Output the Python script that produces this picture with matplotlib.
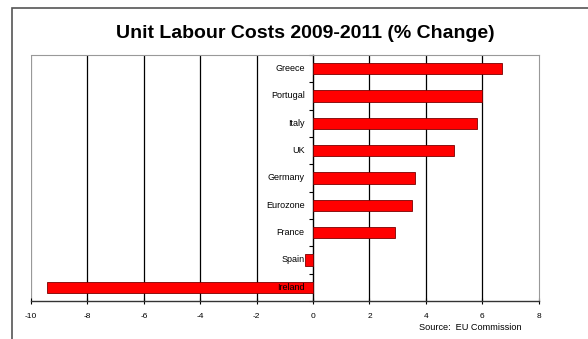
import numpy as np
import matplotlib.pyplot as plt
from matplotlib.patches import Rectangle

plt.rcParams['font.family'] = ['Liberation Sans', 'DejaVu Sans']

countries = ["Greece", "Portugal", "Italy", "UK", "Germany", "Eurozone", "France", "Spain", "Ireland"]
changes = [6.7, 6.0, 5.8, 5.0, 3.6, 3.5, 2.9, -0.3, -9.45]
xticks = [-10, -8, -6, -4, -2, 0, 2, 4, 6, 8]

fig = plt.figure(figsize=(5.88, 3.39), dpi=100)
# outer chart frame
fig.patches.append(Rectangle((11.5 / 588, -0.1), 1.2, 1 - 8 / 339 + 0.1,
                             transform=fig.transFigure, fill=False,
                             edgecolor="#555555", linewidth=1.2))

ax = fig.add_axes([31 / 588, 1 - 301 / 339, (538.7 - 31) / 588, (301 - 55) / 339])

y = np.arange(len(countries))[::-1]
ax.barh(y, changes, height=0.42, color="#ff0000", edgecolor="#7a0000", linewidth=0.6, zorder=3)

for yi, name in zip(y, countries):
    ax.text(-0.3, yi, name, ha="right", va="center", fontsize=6.5, zorder=4)

ax.set_xlim(-10, 8)
ax.set_ylim(-0.5, len(countries) - 0.5)

ax.set_xticks(xticks)
ax.set_xticklabels([str(t) for t in xticks], fontsize=6)
for t in xticks[1:-1]:
    if t != 0:
        ax.axvline(t, color="black", linewidth=0.9, zorder=1)
ax.axvline(-10, color="#999999", linewidth=0.9, zorder=1)

ax.set_yticks(np.arange(len(countries) + 1) - 0.5)
ax.set_yticklabels([])
ax.spines["left"].set_position(("data", 0))
ax.spines["left"].set_linewidth(1.0)
ax.spines["bottom"].set_linewidth(1.0)
ax.spines["bottom"].set_color("#333333")
ax.spines["top"].set_color("#999999")
ax.spines["right"].set_color("#999999")
ax.tick_params(axis="y", direction="out", length=3, width=0.8)
ax.tick_params(axis="x", direction="inout", length=5, width=0.8, pad=6)

fig.text(305 / 588, 1 - 33 / 339, "Unit Labour Costs 2009-2011 (% Change)",
         ha="center", va="center", fontsize=14, fontweight="bold")
fig.text(470 / 588, 1 - 327 / 339, "Source:  EU Commission", ha="center", va="center", fontsize=6.6)

fig.savefig("out.png", dpi=100)
